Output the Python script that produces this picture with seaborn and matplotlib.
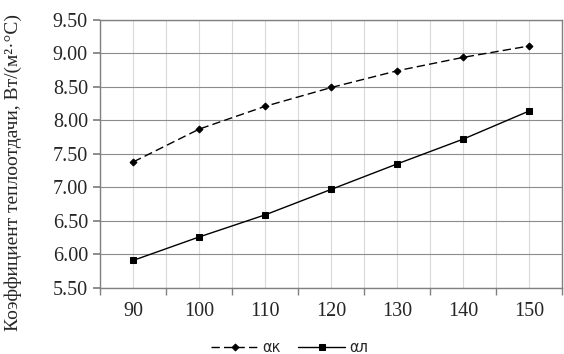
import numpy as np
import pandas as pd
import seaborn as sns
import matplotlib
matplotlib.use("Agg")
import matplotlib.pyplot as plt
from matplotlib.ticker import MultipleLocator, FixedLocator

# data
temps = ["90", "100", "110", "120", "130", "140", "150"]
alpha_k = [7.38, 7.87, 8.21, 8.49, 8.74, 8.94, 9.11]
alpha_l = [5.91, 6.26, 6.59, 6.97, 7.35, 7.72, 8.14]

sns.set_theme(style="white")
plt.rcParams["font.family"] = ["Liberation Serif", "DejaVu Serif"]

pos = np.arange(len(temps))
df = pd.DataFrame({"pos": pos, "ak": alpha_k, "al": alpha_l})

fig, ax = plt.subplots(figsize=(5.64, 3.54), dpi=100)
fig.subplots_adjust(left=0.178, right=0.997, top=0.944, bottom=0.187)

sns.lineplot(data=df, x="pos", y="ak", ax=ax, color="black", lw=1.0,
             marker="D", markersize=3.5, markeredgecolor="black",
             linestyle=(0, (6, 3)), label="αк")
sns.lineplot(data=df, x="pos", y="al", ax=ax, color="black", lw=1.0,
             marker="s", markersize=4, markeredgecolor="black",
             label="αл")

ax.set_xlim(-0.5, len(temps) - 0.5)
ax.set_ylim(5.5, 9.5)
ax.yaxis.set_major_locator(MultipleLocator(0.5))
ax.yaxis.set_major_formatter(plt.FuncFormatter(lambda v, p: f"{v:.2f}"))

ax.set_xticks(pos)
ax.set_xticklabels(temps)
ax.xaxis.set_minor_locator(FixedLocator(np.arange(-0.5, len(temps), 1.0)))
ax.tick_params(axis="x", which="major", length=0, pad=10, labelsize=14.5)
ax.tick_params(axis="x", which="minor", length=5, color="#808080", bottom=True)
ax.tick_params(axis="y", which="major", length=5, color="#808080", left=True,
               labelsize=14.5, pad=4)

ax.grid(axis="y", which="major", color="#8c8c8c", lw=0.8)
ax.grid(axis="x", which="both", color="#d9d9d9", lw=0.8)
ax.set_axisbelow(True)
for s in ax.spines.values():
    s.set_color("#808080")
    s.set_linewidth(1.0)

ax.set_xlabel("")
ax.set_ylabel("Коэффициент теплоотдачи, Вт/(м²·°С)", fontsize=14)
ax.yaxis.set_label_coords(-0.17, 0.43)

leg = ax.legend(loc="upper center", bbox_to_anchor=(0.41, -0.145), ncol=2,
                frameon=False, handlelength=3.2, columnspacing=1.2,
                handletextpad=0.3,
                prop={"family": "DejaVu Sans", "size": 10.5})

fig.savefig("out.png", dpi=100)
